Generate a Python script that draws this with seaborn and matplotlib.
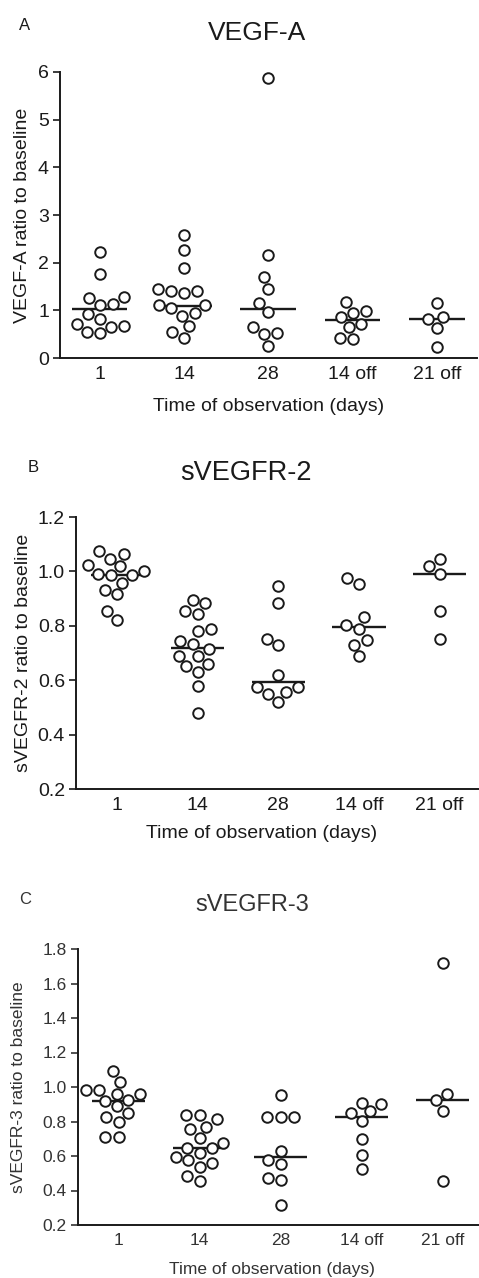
# Scatter dot plots of VEGF-A, sVEGFR-2 and sVEGFR-3 ratios over time

import numpy as np
import pandas as pd
import seaborn as sns
from matplotlib import pyplot as plt

groups = ["1", "14", "28", "14 off", "21 off"]

# panel A - VEGF-A
vegfa_d1 = [2.22, 1.76, 1.27, 1.25, 1.13, 1.11, 0.92, 0.81, 0.71, 0.66, 0.67, 0.52, 0.54]
vegfa_d14 = [2.58, 2.26, 1.89, 1.41, 1.36, 1.45, 1.41, 1.11, 1.11, 1.04, 0.94, 0.89, 0.67, 0.43, 0.54]
vegfa_d28 = [5.88, 2.16, 1.70, 1.45, 1.15, 0.97, 0.53, 0.64, 0.50, 0.25]
vegfa_off14 = [1.18, 0.95, 0.85, 0.99, 0.71, 0.64, 0.39, 0.43]
vegfa_off21 = [1.15, 0.82, 0.85, 0.62, 0.24]
vegfa_med = [1.03, 1.09, 1.03, 0.80, 0.82]

# panel B - sVEGFR-2
r2_d1 = [1.063, 1.075, 1.047, 1.019, 1.023, 0.992, 0.986, 1.002, 0.988, 0.959, 0.933, 0.916, 0.854, 0.823]
r2_d14 = [0.894, 0.882, 0.854, 0.845, 0.781, 0.790, 0.745, 0.733, 0.713, 0.690, 0.690, 0.659, 0.652, 0.631, 0.579, 0.480]
r2_d28 = [0.945, 0.882, 0.731, 0.753, 0.619, 0.576, 0.576, 0.557, 0.549, 0.521]
r2_off14 = [0.953, 0.974, 0.833, 0.802, 0.790, 0.747, 0.731, 0.688]
r2_off21 = [1.045, 1.019, 0.992, 0.854, 0.751]
r2_med = [0.985, 0.719, 0.594, 0.796, 0.992]

# panel C - sVEGFR-3
r3_d1 = [1.09, 1.03, 0.98, 0.98, 0.96, 0.96, 0.925, 0.916, 0.887, 0.848, 0.825, 0.80, 0.712, 0.712]
r3_d14 = [0.838, 0.813, 0.838, 0.757, 0.770, 0.707, 0.678, 0.649, 0.645, 0.616, 0.596, 0.577, 0.558, 0.538, 0.486, 0.457]
r3_d28 = [0.954, 0.825, 0.825, 0.825, 0.631, 0.554, 0.577, 0.471, 0.461, 0.316]
r3_off14 = [0.910, 0.900, 0.858, 0.848, 0.804, 0.697, 0.606, 0.525]
r3_off21 = [1.719, 0.958, 0.925, 0.863, 0.457]
r3_med = [0.92, 0.645, 0.596, 0.825, 0.925]

sns.set_style("ticks")
plt.rcParams["font.family"] = ["Liberation Sans", "DejaVu Sans"]

W, H = 479, 1278
fig = plt.figure(figsize=(W / 100, H / 100), dpi=100)


def px(x, y):
    return x / W, 1 - y / H


def panel(rect, values, medians, ylim, yticks, yfmt, ylabel, fs, tc,
          ylab_x, xlab_xy, xlim):
    ax = fig.add_axes(rect)
    df = pd.DataFrame({
        "group": np.repeat(groups, [len(v) for v in values]),
        "value": np.concatenate(values),
    })
    ax.hlines(medians, np.arange(5) - 0.33, np.arange(5) + 0.33,
              color="#1a1a1a", lw=1.7, zorder=1)
    sns.swarmplot(data=df, x="group", y="value", order=groups, ax=ax,
                  size=7.6, color="white", edgecolor="#1a1a1a",
                  linewidth=1.4, zorder=3)
    ax.set_xlim(*xlim)
    ax.set_ylim(*ylim)
    ax.set_yticks(yticks)
    ax.set_yticklabels([yfmt.format(t) for t in yticks])
    sns.despine(ax=ax)
    for s in ("left", "bottom"):
        ax.spines[s].set_linewidth(1.4)
        ax.spines[s].set_color("#1a1a1a")
    ax.tick_params(axis="y", length=5, width=1.2, pad=3, labelsize=fs,
                   colors=tc)
    ax.tick_params(axis="x", length=0, pad=6, labelsize=fs, colors=tc)
    ax.set_ylabel(ylabel, fontsize=fs, color=tc)
    ax.set_xlabel("Time of observation (days)", fontsize=fs, color=tc)
    ax.yaxis.set_label_coords(ylab_x, 0.5)
    ax.xaxis.set_label_coords(*xlab_xy)
    return ax


# A
l, b = px(60, 358)
panel([l, b, 0.995 - l, (358 - 72) / H],
      [vegfa_d1, vegfa_d14, vegfa_d28, vegfa_off14, vegfa_off21], vegfa_med,
      (0, 6), list(range(7)), "{:d}", "VEGF-A ratio to baseline", 14,
      "#1a1a1a", -0.069, (0.5, -0.14), (-0.47, 4.47))
fig.text(*px(25, 25), "A", fontsize=12, ha="center", va="center", color="#1a1a1a")
fig.text(*px(257, 33), "VEGF-A", fontsize=19, ha="center", va="center", color="#1a1a1a")

# B
l, b = px(76, 789)
panel([l, b, 1 - l, (789 - 517) / H],
      [r2_d1, r2_d14, r2_d28, r2_off14, r2_off21], r2_med,
      (0.2, 1.2), [0.2, 0.4, 0.6, 0.8, 1.0, 1.2], "{:.1f}",
      "sVEGFR-2 ratio to baseline", 14, "#1a1a1a",
      -0.109, (0.46, -0.132), (-0.51, 4.49))
fig.text(*px(33, 468), "B", fontsize=12, ha="center", va="center", color="#1a1a1a")
fig.text(*px(246, 473), "sVEGFR-2", fontsize=19.5, ha="center", va="center", color="#1a1a1a")

# C
l, b = px(78, 1225)
panel([l, b, 1 - l, (1225 - 949) / H],
      [r3_d1, r3_d14, r3_d28, r3_off14, r3_off21], r3_med,
      (0.2, 1.8), [0.2, 0.4, 0.6, 0.8, 1.0, 1.2, 1.4, 1.6, 1.8], "{:.1f}",
      "sVEGFR-3 ratio to baseline", 12.5, "#333333",
      -0.13, (0.483, -0.134), (-0.50, 4.45))
fig.text(*px(25, 900), "C", fontsize=12, ha="center", va="center", color="#333333")
fig.text(*px(252, 905), "sVEGFR-3", fontsize=17, ha="center", va="center", color="#333333")

fig.savefig("out.png", dpi=100)
